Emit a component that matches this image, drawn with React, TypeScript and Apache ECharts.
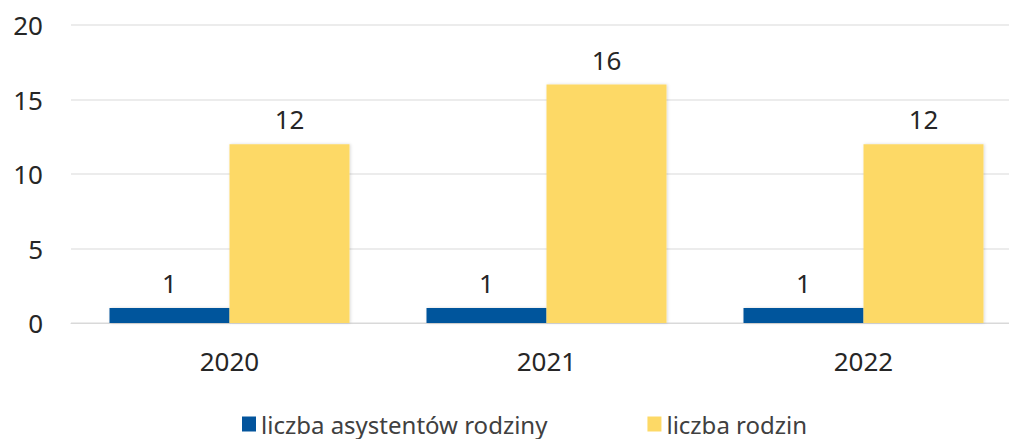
import React, { useEffect, useRef } from "react";
import * as echarts from "echarts";

const categories = ["2020", "2021", "2022"];
const assistants = [1, 1, 1];
const families = [12, 16, 12];
const seriesNames = ["liczba asystentów rodziny", "liczba rodzin"];

const FONT = "'Noto Sans', sans-serif";

export default function App() {
  const ref = useRef<HTMLDivElement>(null);
  useEffect(() => {
    if (!ref.current) return;
    const chart = echarts.init(ref.current, undefined, { renderer: "svg" });
    const labelCfg = {
      show: true,
      position: "top" as const,
      distance: 12,
      color: "#262626",
      fontSize: 26,
      fontFamily: FONT,
    };
    chart.setOption({
      animation: false,
      textStyle: { fontFamily: FONT },
      grid: { left: 71, top: 25, width: 951, height: 298 },
      legend: {
        top: 412,
        left: 242,
        padding: [0, 0],
        itemGap: 100,
        itemWidth: 14,
        itemHeight: 15,
        icon: "rect",
        textStyle: { fontSize: 24, lineHeight: 24, color: "#404040", fontFamily: FONT },
        data: seriesNames,
      },
      xAxis: {
        type: "category",
        data: categories,
        axisTick: { show: false },
        axisLine: { lineStyle: { color: "#d9d9d9" } },
        axisLabel: { fontSize: 26, color: "#262626", margin: 25, fontFamily: FONT },
      },
      yAxis: {
        type: "value",
        min: 0,
        max: 20,
        interval: 5,
        axisLabel: { fontSize: 26, color: "#262626", margin: 28, fontFamily: FONT },
        splitLine: { lineStyle: { color: "#e6e6e6", width: 1.5 } },
        axisLine: { show: false },
        axisTick: { show: false },
      },
      series: [
        {
          name: seriesNames[0],
          type: "bar",
          data: assistants,
          barWidth: 120,
          barGap: "0%",
          itemStyle: { color: "#03549c", shadowColor: "rgba(0,0,0,0.15)", shadowBlur: 3, shadowOffsetX: 1 },
          label: labelCfg,
        },
        {
          name: seriesNames[1],
          type: "bar",
          data: families,
          barWidth: 120,
          barGap: "0%",
          itemStyle: { color: "#fdd966", shadowColor: "rgba(0,0,0,0.15)", shadowBlur: 3, shadowOffsetX: 1 },
          label: labelCfg,
        },
      ],
    });
    return () => chart.dispose();
  }, []);
  return (
    <div style={{ width: 1009, height: 439, position: "absolute", left: 0, top: 0, overflow: "hidden" }}>
      <div ref={ref} style={{ width: 1030, height: 439 }} />
    </div>
  );
}
